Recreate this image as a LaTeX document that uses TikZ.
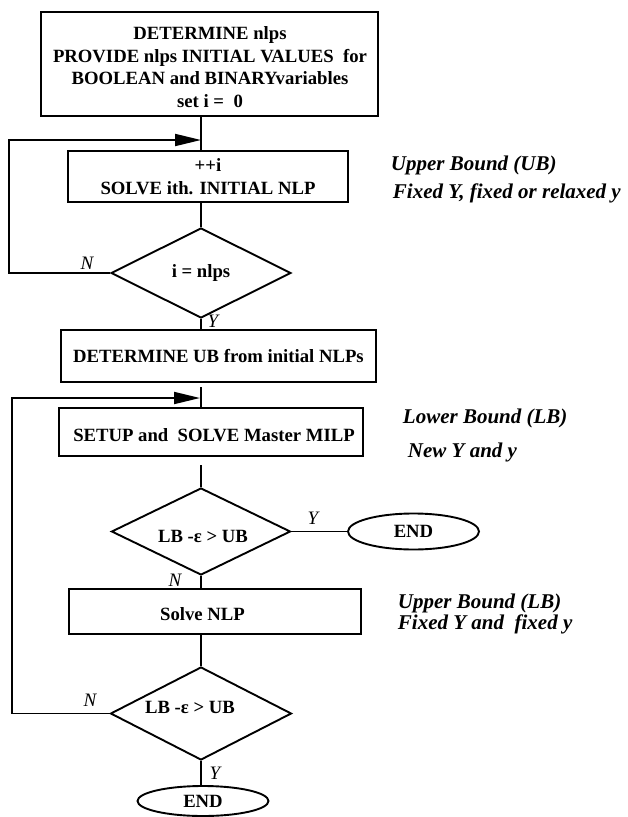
\documentclass[tikz,border=0pt]{standalone}
\usepackage{fontspec}
\setmainfont{Liberation Serif}
\usetikzlibrary{shapes.geometric,arrows.meta}
\begin{document}
\begin{tikzpicture}[x=1pt,y=1pt,line width=1.9pt,
  box/.style={draw,rectangle,inner sep=0pt,align=center,font=\bfseries\fontsize{18.7}{22.7}\selectfont},
  boxtext/.style={inner sep=0pt,align=center,font=\bfseries\fontsize{18.7}{22.7}\selectfont},
  dec/.style={draw,diamond,aspect=2,inner sep=0pt,font=\bfseries\fontsize{18.7}{22}\selectfont},
  term/.style={draw,ellipse,inner sep=0pt,font=\bfseries\fontsize{18.7}{22}\selectfont},
  yn/.style={font=\itshape\fontsize{19}{22}\selectfont,inner sep=0pt},
  note/.style={anchor=west,inner sep=0pt,font=\bfseries\itshape\fontsize{21}{24}\selectfont},
  arr/.style={-{Triangle[length=26pt,width=12pt]}}
]
\useasboundingbox (0,0) rectangle (628,-817);

% boxes
\node[box,minimum width=337pt,minimum height=104pt] (b1) at (209.5,-64) {};
\node[boxtext] (b1t) at (210,-67)
  {DETERMINE nlps\\PROVIDE nlps INITIAL VALUES\ \ for\\BOOLEAN and BINARYvariables\\set i =\ \ 0};
\node[box,minimum width=280pt,minimum height=51pt] (b2) at (208,-176.5)
  {++i\\[1pt]SOLVE ith. INITIAL NLP};
\node[box,minimum width=315pt,minimum height=52pt] (b3) at (218.5,-356)
  {DETERMINE UB from initial NLPs};
\node[box,minimum width=304pt,minimum height=48pt] (b4) at (211,-432) {};
\node[boxtext] (b4t) at (214,-435) {SETUP and\ \ SOLVE Master MILP};
\node[box,minimum width=292pt,minimum height=45pt] (b5) at (215,-611.5) {};
\node[boxtext] (b5t) at (202.5,-614) {Solve NLP};

% decisions
\node[dec,minimum width=180pt,minimum height=90pt] (d1) at (201,-273) {i = nlps};
\node[dec,minimum width=179pt,minimum height=87pt] (d2) at (201,-531.5) {};
\node[boxtext] (d2t) at (203,-536) {LB -ε > UB};
\node[dec,minimum width=181pt,minimum height=93pt] (d3) at (201,-713.5) {};
\node[boxtext] (d3t) at (190,-707) {LB -ε > UB};

% terminals
\node[term,minimum width=131pt,minimum height=36pt] (e1) at (413.5,-531.5) {END};
\node[term,minimum width=131pt,minimum height=30pt] (e2) at (203,-801) {END};

% helper coordinates
\coordinate (m) at (201,0);
\coordinate (L1) at (9,0);
\coordinate (L2) at (12,0);
\coordinate (j1) at (201,-140);
\coordinate (j2) at (200,-398);
\coordinate (t2) at (201,-387);
\coordinate (t3) at (201,-465);

% connectors
\draw (b1.south -| m) -- (b2.north -| m);
\draw (b2.south -| m) -- (d1.north);
\draw (d1.south) -- (b3.north -| d1.south);
\draw[arr] (d1.west) -- (d1.west -| L1) |- (j1);
\draw (t2) -- (b4.north -| t2);
\draw (t3) -- (d2.north);
\draw (d2.east) -- (e1.west);
\draw (d2.south) -- (b5.north -| d2.south);
\draw (b5.south -| m) -- (d3.north);
\draw (d3.south) -- (d3.south |- e2.north);
\draw[arr] (d3.west) -- (d3.west -| L2) |- (j2);

% branch labels
\node[yn] (n1) at (87,-263) {N};
\node[yn] (y1) at (213,-321) {Y};
\node[yn] (y2) at (313,-518) {Y};
\node[yn] (n2) at (175,-580) {N};
\node[yn] (n3) at (90,-700) {N};
\node[yn] (y3) at (215,-773) {Y};

% side notes
\node[note] (u1) at (390,-165) {Upper Bound (UB)};
\node[note] (u2) at (392,-193) {Fixed Y, fixed or relaxed y};
\node[note] (l1) at (402,-418) {Lower Bound (LB)};
\node[note] (l2) at (407,-452) {New Y and y};
\node[note] (u3) at (397,-603) {Upper Bound (LB)};
\node[note] (u4) at (397,-624) {Fixed Y and\ \ fixed y};
\end{tikzpicture}
\end{document}
